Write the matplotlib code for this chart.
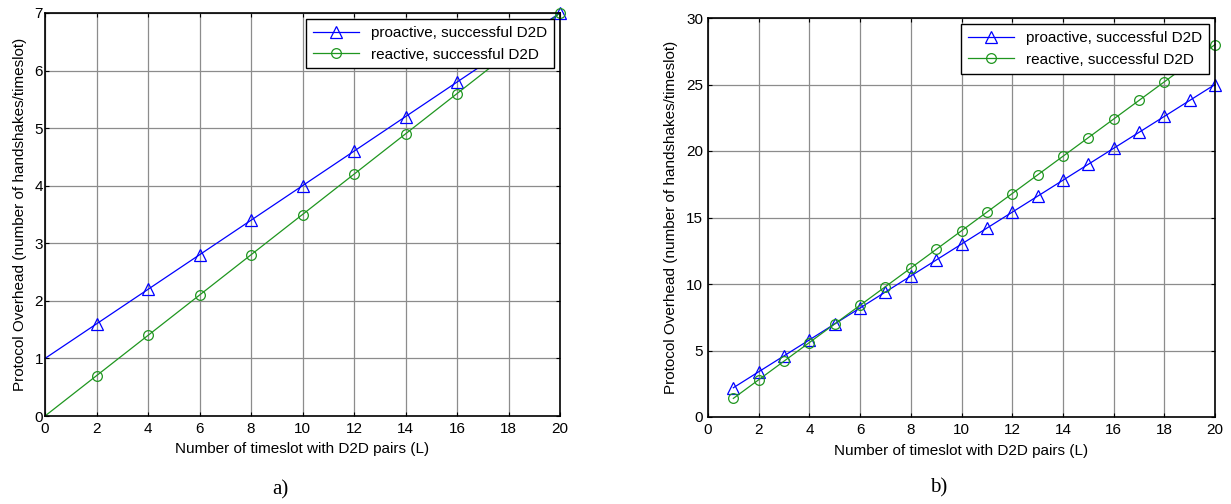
import matplotlib
matplotlib.use("Agg")
import matplotlib.pyplot as plt

plt.rcParams['font.family'] = ['Liberation Sans', 'DejaVu Sans']

# Panel a) : L from 0 to 20 in steps of 2
a_L = [0, 2, 4, 6, 8, 10, 12, 14, 16, 18, 20]
a_proactive = [1.0, 1.6, 2.2, 2.8, 3.4, 4.0, 4.6, 5.2, 5.8, 6.4, 7.0]
a_reactive = [0.0, 0.7, 1.4, 2.1, 2.8, 3.5, 4.2, 4.9, 5.6, 6.3, 7.0]

# Panel b) : L from 1 to 20
b_L = list(range(1, 21))
b_proactive = [2.2, 3.4, 4.6, 5.8, 7.0, 8.2, 9.4, 10.6, 11.8, 13.0,
               14.2, 15.4, 16.6, 17.8, 19.0, 20.2, 21.4, 22.6, 23.8, 25.0]
b_reactive = [1.4, 2.8, 4.2, 5.6, 7.0, 8.4, 9.8, 11.2, 12.6, 14.0,
              15.4, 16.8, 18.2, 19.6, 21.0, 22.4, 23.8, 25.2, 26.6, 28.0]

labels = ['proactive, successful D2D', 'reactive, successful D2D']
a_xticks = list(range(0, 21, 2))
a_yticks = list(range(0, 8))
b_xticks = list(range(0, 21, 2))
b_yticks = list(range(0, 31, 5))

BLUE = '#0000ff'
GREEN = '#1f961f'
GRID = '#8c8c8c'

fig = plt.figure(figsize=(12.31, 5.04), dpi=100)
ax1 = fig.add_axes([45 / 1231, 1 - 416 / 504, (560 - 45) / 1231, (416 - 13) / 504])
ax2 = fig.add_axes([708 / 1231, 1 - 417 / 504, (1215 - 708) / 1231, (417 - 18) / 504])


def style(ax, xt, yt, ylim, ypad, ylabelpad):
    ax.set_xlim(0, 20)
    ax.set_ylim(*ylim)
    ax.set_xticks(xt)
    ax.set_yticks(yt)
    ax.grid(True, color=GRID, linewidth=0.9)
    ax.set_axisbelow(True)
    ax.tick_params(direction='in', top=True, right=True, length=3,
                   width=0.8, labelsize=11, colors='black')
    ax.tick_params(axis='x', pad=4)
    ax.tick_params(axis='y', pad=ypad)
    for s in ax.spines.values():
        s.set_linewidth(1.2)
    ax.set_xlabel('Number of timeslot with D2D pairs (L)', fontsize=11, labelpad=5)
    ax.set_ylabel('Protocol Overhead (number of handshakes/timeslot)', fontsize=11,
                  labelpad=ylabelpad)


ax1.plot(a_L, a_proactive, color=BLUE, lw=0.9, marker='^', ms=9, mfc='none',
         mec=BLUE, mew=0.9, markevery=slice(1, None), label=labels[0], clip_on=False)
ax1.plot(a_L, a_reactive, color=GREEN, lw=0.9, marker='o', ms=7, mfc='none',
         mec=GREEN, mew=0.9, markevery=slice(1, None), label=labels[1], clip_on=False)
style(ax1, a_xticks, a_yticks, (0, 7), 1.5, 5)

ax2.plot(b_L, b_proactive, color=BLUE, lw=0.9, marker='^', ms=9, mfc='none',
         mec=BLUE, mew=0.9, label=labels[0], clip_on=False)
ax2.plot(b_L, b_reactive, color=GREEN, lw=0.9, marker='o', ms=7, mfc='none',
         mec=GREEN, mew=0.9, label=labels[1], clip_on=False)
style(ax2, b_xticks, b_yticks, (0, 30), 3.5, 6)

for ax in (ax1, ax2):
    leg = ax.legend(loc='upper right', fontsize=11, frameon=True, fancybox=False,
                    edgecolor='black', framealpha=1, borderaxespad=0.4,
                    handlelength=3.0, borderpad=0.45, labelspacing=0.5,
                    handletextpad=0.8)
    leg.get_frame().set_linewidth(1.0)
    leg.set_zorder(5)

fig.text(280 / 1231, 1 - 490 / 504, 'a)', fontsize=15, family='Liberation Serif',
         ha='center', va='center')
fig.text(939 / 1231, 1 - 488 / 504, 'b)', fontsize=15, family='Liberation Serif',
         ha='center', va='center')

fig.savefig('out.png', dpi=100)
